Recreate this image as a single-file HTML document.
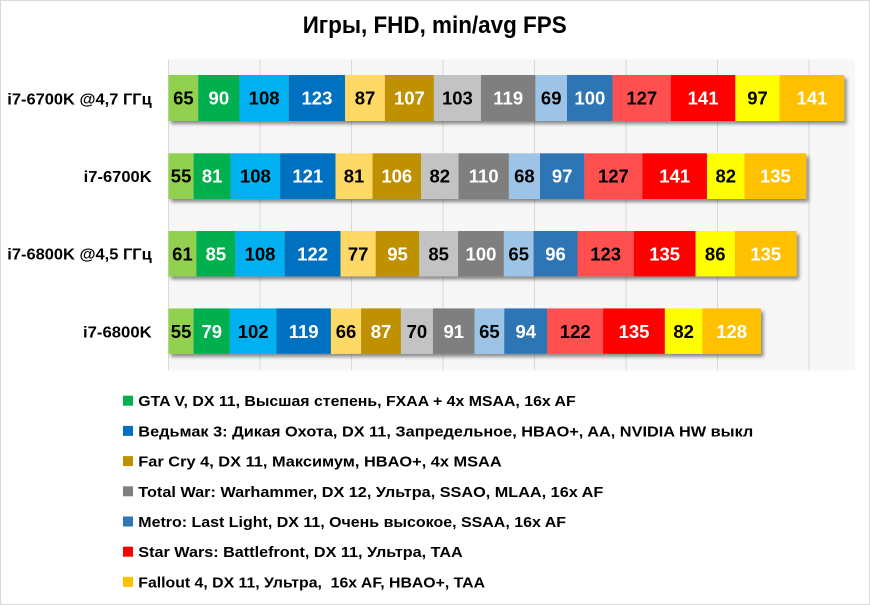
<!DOCTYPE html>
<html>
<head>
<meta charset="utf-8">
<style>
html,body{margin:0;padding:0;background:#fff;}
svg{display:block;}
text{font-family:"Liberation Sans","DejaVu Sans",sans-serif;font-weight:bold;}
.v{font-size:18.5px;text-anchor:middle;}
.b{fill:#000;}
.w{fill:#fff;}
.cat{font-size:16px;text-anchor:end;fill:#000;}
.leg{font-size:15px;fill:#000;}
</style>
</head>
<body>
<svg width="870" height="605" viewBox="0 0 870 605" xmlns="http://www.w3.org/2000/svg">
<defs>
<filter id="sh" x="-5%" y="-30%" width="110%" height="170%">
<feGaussianBlur in="SourceAlpha" stdDeviation="1.8"/>
<feOffset dx="2.5" dy="3" result="o"/>
<feComponentTransfer><feFuncA type="linear" slope="0.45"/></feComponentTransfer>
<feMerge><feMergeNode/><feMergeNode in="SourceGraphic"/></feMerge>
</filter>
</defs>
<rect x="0" y="0" width="870" height="605" fill="#fff"/>
<rect x="0.5" y="0.5" width="869" height="604" fill="none" stroke="#d9d9d9" stroke-width="1"/>

<text x="302.7" y="33" font-size="24.5" textLength="264" lengthAdjust="spacingAndGlyphs" fill="#000">Игры, FHD, min/avg FPS</text>

<!-- plot area -->
<rect x="168" y="59.3" width="687" height="311.2" fill="#f7f7f7"/>
<g stroke="#d9d9d9" stroke-width="1">
<line x1="168.5" y1="59.3" x2="168.5" y2="370.5"/>
<line x1="260" y1="59.3" x2="260" y2="370.5"/>
<line x1="351.5" y1="59.3" x2="351.5" y2="370.5"/>
<line x1="443" y1="59.3" x2="443" y2="370.5"/>
<line x1="534.5" y1="59.3" x2="534.5" y2="370.5"/>
<line x1="626" y1="59.3" x2="626" y2="370.5"/>
<line x1="717.5" y1="59.3" x2="717.5" y2="370.5"/>
<line x1="809" y1="59.3" x2="809" y2="370.5"/>
</g>

<!-- category labels -->
<text class="cat" x="151.7" y="104.3" textLength="144.4" lengthAdjust="spacingAndGlyphs">i7-6700K @4,7 ГГц</text>
<text class="cat" x="151.7" y="182" textLength="68" lengthAdjust="spacingAndGlyphs">i7-6700K</text>
<text class="cat" x="151.7" y="259.7" textLength="144.4" lengthAdjust="spacingAndGlyphs">i7-6800K @4,5 ГГц</text>
<text class="cat" x="151.7" y="337.3" textLength="68.7" lengthAdjust="spacingAndGlyphs">i7-6800K</text>

<!-- Row 1 -->
<g filter="url(#sh)">
<rect x="168.5" y="75" width="29.74" height="46" fill="#92d050"/>
<rect x="198.24" y="75" width="41.17" height="46" fill="#00b050"/>
<rect x="239.41" y="75" width="49.41" height="46" fill="#00b0f0"/>
<rect x="288.82" y="75" width="56.28" height="46" fill="#0070c0"/>
<rect x="345.1" y="75" width="39.8" height="46" fill="#ffd966"/>
<rect x="384.9" y="75" width="48.95" height="46" fill="#bf9000"/>
<rect x="433.85" y="75" width="47.12" height="46" fill="#c3c3c3"/>
<rect x="480.97" y="75" width="54.45" height="46" fill="#7f7f7f"/>
<rect x="535.42" y="75" width="31.56" height="46" fill="#9dc3e6"/>
<rect x="566.98" y="75" width="45.75" height="46" fill="#2e75b6"/>
<rect x="612.73" y="75" width="58.11" height="46" fill="#ff5050"/>
<rect x="670.84" y="75" width="64.5" height="46" fill="#ff0000"/>
<rect x="735.34" y="75" width="44.38" height="46" fill="#ffff00"/>
<rect x="779.72" y="75" width="64.51" height="46" fill="#ffc000"/>
</g>
<text class="v b" x="183.37" y="104.7">65</text>
<text class="v w" x="218.83" y="104.7">90</text>
<text class="v b" x="264.12" y="104.7">108</text>
<text class="v w" x="316.96" y="104.7">123</text>
<text class="v b" x="365" y="104.7">87</text>
<text class="v w" x="409.38" y="104.7">107</text>
<text class="v b" x="457.41" y="104.7">103</text>
<text class="v w" x="508.2" y="104.7">119</text>
<text class="v b" x="551.2" y="104.7">69</text>
<text class="v w" x="589.86" y="104.7">100</text>
<text class="v b" x="641.79" y="104.7">127</text>
<text class="v w" x="703.09" y="104.7">141</text>
<text class="v b" x="757.53" y="104.7">97</text>
<text class="v w" x="811.98" y="104.7">141</text>

<!-- Row 2 -->
<g filter="url(#sh)">
<rect x="168.5" y="153.3" width="25.16" height="45.7" fill="#92d050"/>
<rect x="193.66" y="153.3" width="37.06" height="45.7" fill="#00b050"/>
<rect x="230.72" y="153.3" width="49.41" height="45.7" fill="#00b0f0"/>
<rect x="280.13" y="153.3" width="55.36" height="45.7" fill="#0070c0"/>
<rect x="335.49" y="153.3" width="37.06" height="45.7" fill="#ffd966"/>
<rect x="372.55" y="153.3" width="48.49" height="45.7" fill="#bf9000"/>
<rect x="421.04" y="153.3" width="37.52" height="45.7" fill="#c3c3c3"/>
<rect x="458.56" y="153.3" width="50.32" height="45.7" fill="#7f7f7f"/>
<rect x="508.88" y="153.3" width="31.11" height="45.7" fill="#9dc3e6"/>
<rect x="539.99" y="153.3" width="44.38" height="45.7" fill="#2e75b6"/>
<rect x="584.37" y="153.3" width="58.1" height="45.7" fill="#ff5050"/>
<rect x="642.47" y="153.3" width="64.51" height="45.7" fill="#ff0000"/>
<rect x="706.98" y="153.3" width="37.51" height="45.7" fill="#ffff00"/>
<rect x="744.49" y="153.3" width="61.77" height="45.7" fill="#ffc000"/>
</g>
<text class="v b" x="181.08" y="182.7">55</text>
<text class="v w" x="212.19" y="182.7">81</text>
<text class="v b" x="255.43" y="182.7">108</text>
<text class="v w" x="307.81" y="182.7">121</text>
<text class="v b" x="354.02" y="182.7">81</text>
<text class="v w" x="396.8" y="182.7">106</text>
<text class="v b" x="439.8" y="182.7">82</text>
<text class="v w" x="483.72" y="182.7">110</text>
<text class="v b" x="524.44" y="182.7">68</text>
<text class="v w" x="562.18" y="182.7">97</text>
<text class="v b" x="613.42" y="182.7">127</text>
<text class="v w" x="674.73" y="182.7">141</text>
<text class="v b" x="725.74" y="182.7">82</text>
<text class="v w" x="775.38" y="182.7">135</text>

<!-- Row 3 -->
<g filter="url(#sh)">
<rect x="168.5" y="231" width="27.91" height="45.4" fill="#92d050"/>
<rect x="196.41" y="231" width="38.89" height="45.4" fill="#00b050"/>
<rect x="235.3" y="231" width="49.41" height="45.4" fill="#00b0f0"/>
<rect x="284.71" y="231" width="55.81" height="45.4" fill="#0070c0"/>
<rect x="340.52" y="231" width="35.23" height="45.4" fill="#ffd966"/>
<rect x="375.75" y="231" width="43.46" height="45.4" fill="#bf9000"/>
<rect x="419.21" y="231" width="38.89" height="45.4" fill="#c3c3c3"/>
<rect x="458.1" y="231" width="45.75" height="45.4" fill="#7f7f7f"/>
<rect x="503.85" y="231" width="29.74" height="45.4" fill="#9dc3e6"/>
<rect x="533.59" y="231" width="43.92" height="45.4" fill="#2e75b6"/>
<rect x="577.51" y="231" width="56.27" height="45.4" fill="#ff5050"/>
<rect x="633.78" y="231" width="61.76" height="45.4" fill="#ff0000"/>
<rect x="695.54" y="231" width="39.35" height="45.4" fill="#ffff00"/>
<rect x="734.89" y="231" width="61.76" height="45.4" fill="#ffc000"/>
</g>
<text class="v b" x="182.45" y="260.4">61</text>
<text class="v w" x="215.86" y="260.4">85</text>
<text class="v b" x="260.01" y="260.4">108</text>
<text class="v w" x="312.62" y="260.4">122</text>
<text class="v b" x="358.14" y="260.4">77</text>
<text class="v w" x="397.48" y="260.4">95</text>
<text class="v b" x="438.66" y="260.4">85</text>
<text class="v w" x="480.98" y="260.4">100</text>
<text class="v b" x="518.72" y="260.4">65</text>
<text class="v w" x="555.55" y="260.4">96</text>
<text class="v b" x="605.65" y="260.4">123</text>
<text class="v w" x="664.66" y="260.4">135</text>
<text class="v b" x="715.22" y="260.4">86</text>
<text class="v w" x="765.77" y="260.4">135</text>

<!-- Row 4 -->
<g filter="url(#sh)">
<rect x="168.5" y="308.4" width="25.16" height="45.4" fill="#92d050"/>
<rect x="193.66" y="308.4" width="36.15" height="45.4" fill="#00b050"/>
<rect x="229.81" y="308.4" width="46.66" height="45.4" fill="#00b0f0"/>
<rect x="276.47" y="308.4" width="54.44" height="45.4" fill="#0070c0"/>
<rect x="330.91" y="308.4" width="30.2" height="45.4" fill="#ffd966"/>
<rect x="361.11" y="308.4" width="39.8" height="45.4" fill="#bf9000"/>
<rect x="400.91" y="308.4" width="32.03" height="45.4" fill="#c3c3c3"/>
<rect x="432.94" y="308.4" width="41.63" height="45.4" fill="#7f7f7f"/>
<rect x="474.57" y="308.4" width="29.74" height="45.4" fill="#9dc3e6"/>
<rect x="504.31" y="308.4" width="43" height="45.4" fill="#2e75b6"/>
<rect x="547.31" y="308.4" width="55.82" height="45.4" fill="#ff5050"/>
<rect x="603.13" y="308.4" width="61.76" height="45.4" fill="#ff0000"/>
<rect x="664.89" y="308.4" width="37.51" height="45.4" fill="#ffff00"/>
<rect x="702.4" y="308.4" width="58.56" height="45.4" fill="#ffc000"/>
</g>
<text class="v b" x="181.08" y="337.9">55</text>
<text class="v w" x="211.74" y="337.9">79</text>
<text class="v b" x="253.14" y="337.9">102</text>
<text class="v w" x="303.69" y="337.9">119</text>
<text class="v b" x="346.01" y="337.9">66</text>
<text class="v w" x="381.01" y="337.9">87</text>
<text class="v b" x="416.93" y="337.9">70</text>
<text class="v w" x="453.76" y="337.9">91</text>
<text class="v b" x="489.44" y="337.9">65</text>
<text class="v w" x="525.81" y="337.9">94</text>
<text class="v b" x="575.22" y="337.9">122</text>
<text class="v w" x="634.01" y="337.9">135</text>
<text class="v b" x="683.65" y="337.9">82</text>
<text class="v w" x="731.68" y="337.9">128</text>

<!-- Legend -->
<rect x="123" y="395.7" width="10" height="10" fill="#00b050"/>
<text class="leg" x="138.3" y="406.2" textLength="437.4" lengthAdjust="spacingAndGlyphs">GTA V, DX 11, Высшая степень, FXAA + 4x MSAA, 16x AF</text>
<rect x="123" y="425.9" width="10" height="10" fill="#0070c0"/>
<text class="leg" x="138.3" y="436.4" textLength="615" lengthAdjust="spacingAndGlyphs">Ведьмак 3: Дикая Охота, DX 11, Запредельное, HBAO+, AA, NVIDIA HW выкл</text>
<rect x="123" y="456.1" width="10" height="10" fill="#bf9000"/>
<text class="leg" x="138.3" y="466.6" textLength="363.4" lengthAdjust="spacingAndGlyphs">Far Cry 4, DX 11, Максимум, HBAO+, 4x MSAA</text>
<rect x="123" y="486.3" width="10" height="10" fill="#7f7f7f"/>
<text class="leg" x="138.3" y="496.8" textLength="465" lengthAdjust="spacingAndGlyphs">Total War: Warhammer, DX 12, Ультра, SSAO, MLAA, 16x AF</text>
<rect x="123" y="516.5" width="10" height="10" fill="#2e75b6"/>
<text class="leg" x="138.3" y="527" textLength="427.7" lengthAdjust="spacingAndGlyphs">Metro: Last Light, DX 11, Очень высокое, SSAA, 16x AF</text>
<rect x="123" y="546.7" width="10" height="10" fill="#ff0000"/>
<text class="leg" x="138.3" y="557.2" textLength="324.4" lengthAdjust="spacingAndGlyphs">Star Wars: Battlefront, DX 11, Ультра, TAA</text>
<rect x="123" y="576.9" width="10" height="10" fill="#ffc000"/>
<text class="leg" x="138.3" y="587.4" textLength="346.7" lengthAdjust="spacingAndGlyphs" xml:space="preserve">Fallout 4, DX 11, Ультра,  16x AF, HBAO+, TAA</text>
</svg>
</body>
</html>
